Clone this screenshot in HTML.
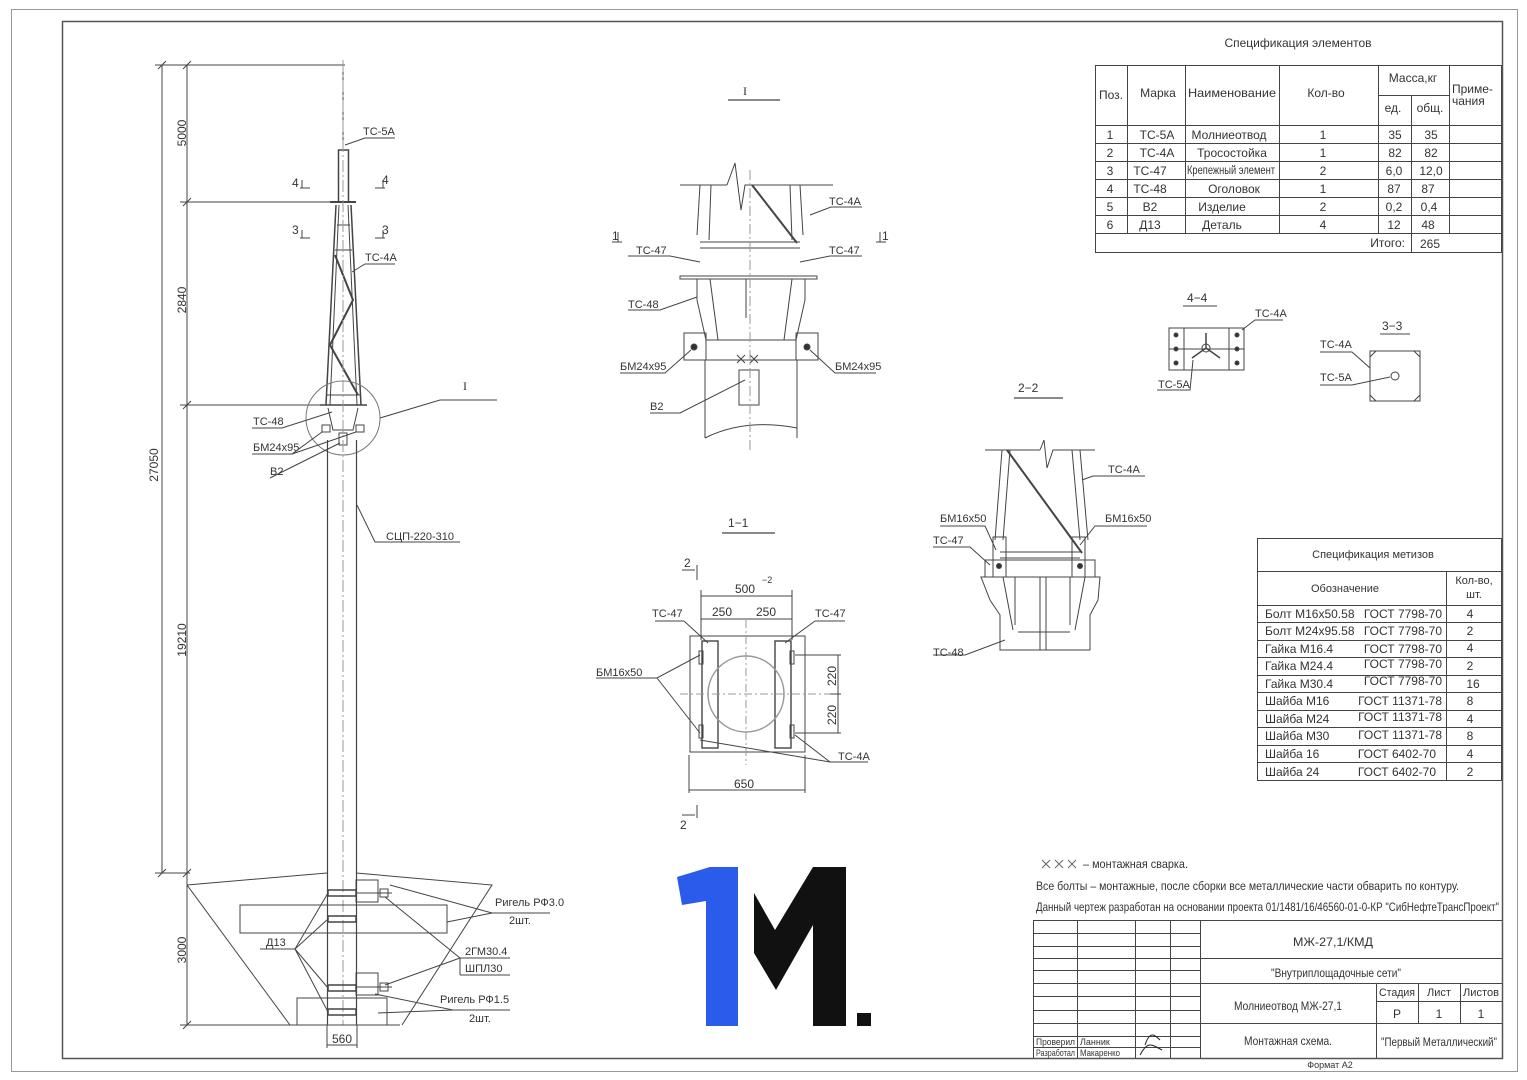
<!DOCTYPE html>
<html><head><meta charset="utf-8"><style>
html,body{margin:0;padding:0;background:#fff}
svg{display:block}
text{font-family:"Liberation Sans","DejaVu Sans",sans-serif;fill:#333;font-size:12px}
.t{font-size:11px}
.s{font-size:9px}
.r{font-family:"Liberation Serif","DejaVu Serif",serif}
</style></head><body>
<svg width="1527" height="1080" viewBox="0 0 1527 1080" xmlns="http://www.w3.org/2000/svg">
<g fill="none" stroke="#444" stroke-width="1">
<rect x="11.5" y="9.5" width="1506" height="1062" stroke="#999"/>
<rect x="62.5" y="21.5" width="1440" height="1037" stroke="#555" stroke-width="1.5"/>

<line x1="162" y1="65" x2="162" y2="873"/>
<line x1="187" y1="65" x2="187" y2="1025"/>
<line x1="155" y1="65" x2="345" y2="65"/>
<line x1="180" y1="202" x2="345" y2="202"/>
<line x1="180" y1="405" x2="330" y2="405"/>
<line x1="155" y1="873" x2="190" y2="873"/>
<line x1="180" y1="1025" x2="400" y2="1025"/>
<line x1="158" y1="69" x2="166" y2="61"/><line x1="183" y1="69" x2="191" y2="61"/>
<line x1="183" y1="206" x2="191" y2="198"/><line x1="183" y1="409" x2="191" y2="401"/>
<line x1="158" y1="877" x2="166" y2="869"/><line x1="183" y1="877" x2="191" y2="869"/>
<line x1="183" y1="1029" x2="191" y2="1021"/>

<line x1="343" y1="65" x2="343" y2="150"/>
<rect x="338.5" y="150" width="10" height="52" stroke-width="1.5"/>
<line x1="330" y1="202" x2="356" y2="202" stroke-width="2"/>
<line x1="336" y1="205" x2="326" y2="405" stroke-width="1.5"/>
<line x1="351" y1="205" x2="361" y2="405" stroke-width="1.5"/>
<line x1="339" y1="205" x2="330" y2="405"/>
<line x1="348" y1="205" x2="357" y2="405"/>
<line x1="337" y1="225" x2="350" y2="225"/>
<line x1="335" y1="250" x2="352" y2="250"/>
<polyline points="335,255 353,300 330,345 358,395" stroke-width="2"/>
<line x1="327" y1="395" x2="360" y2="395"/>
<line x1="320" y1="405" x2="367" y2="405" stroke-width="1.5"/>
<path d="M328 408 L333 430 L353 430 L358 408"/>
<rect x="322" y="425" width="8" height="7"/><rect x="356" y="425" width="8" height="7"/>
<rect x="339" y="433" width="8" height="12"/>
<circle cx="343" cy="418" r="37" stroke="#777"/>
<line x1="327.5" y1="440" x2="327.5" y2="1025" stroke-width="1.2"/>
<line x1="356.5" y1="440" x2="356.5" y2="1025" stroke-width="1.2"/>
<line x1="343" y1="60" x2="343" y2="1025" stroke-dasharray="12 3 2 3" stroke="#999"/>
<path d="M300 188 L310 188 M302 180 L302 188 M375 188 L385 188 M383 180 L383 188"/>
<path d="M300 238 L310 238 M302 230 L302 238 M375 238 L385 238 M383 230 L383 238"/>
<polyline points="345,145 365,138 395,138"/>
<polyline points="352,272 365,264 395,264"/>
<polyline points="380,418 440,400 497,400"/>
<polyline points="252,428 282,428 332,412"/>
<polyline points="252,454 292,454 322,432"/>
<polyline points="292,454 356,432"/>
<polyline points="270,478 340,443"/>
<polyline points="357,505 375,542 460,542"/>
<polyline points="187,885 327,873"/><polyline points="356,873 492,885 402,1025"/>
<line x1="187" y1="885" x2="290" y2="1025"/>
<rect x="240" y="905" width="207" height="28"/>
<rect x="297" y="998" width="90" height="27"/>
<rect x="356" y="880" width="22" height="22"/>
<rect x="356" y="973" width="22" height="22"/>
<rect x="328" y="890" width="28" height="6" stroke-width="1.5"/>
<rect x="328" y="916" width="28" height="6" stroke-width="1.5"/>
<rect x="328" y="985" width="28" height="6" stroke-width="1.5"/>
<rect x="328" y="1009" width="28" height="6" stroke-width="1.5"/>
<line x1="356" y1="893" x2="392" y2="893"/><rect x="380" y="889" width="8" height="8"/>
<line x1="356" y1="987" x2="392" y2="987"/><rect x="380" y="983" width="8" height="8"/>
<polyline points="295,949 328,893"/><polyline points="295,949 328,919"/><polyline points="295,949 328,988"/><polyline points="295,949 328,1012"/>
<line x1="260" y1="949" x2="295" y2="949"/>
<polyline points="390,885 492,913 550,913"/><polyline points="447,922 492,913"/>
<polyline points="385,897 460,958 510,958"/><polyline points="385,985 460,958"/>
<line x1="460" y1="958" x2="460" y2="975"/><line x1="460" y1="975" x2="510" y2="975"/>
<polyline points="375,994 453,1010 510,1010"/><polyline points="378,1013 453,1010"/>
<line x1="327" y1="1045" x2="357" y2="1045"/>
<line x1="327" y1="1025" x2="327" y2="1048"/><line x1="357" y1="1025" x2="357" y2="1048"/>

<line x1="728" y1="100" x2="780" y2="100" stroke-width="1.3"/>
<line x1="680" y1="185" x2="727" y2="185"/><polyline points="727,185 735,163 741,210 745,185 833,185"/>
<line x1="700" y1="185" x2="697" y2="235"/><line x1="711" y1="185" x2="709" y2="240"/>
<line x1="790" y1="185" x2="792" y2="240"/><line x1="800" y1="185" x2="803" y2="235"/>
<line x1="752" y1="185" x2="797" y2="243" stroke-width="2"/>
<line x1="700" y1="242" x2="800" y2="242"/><line x1="700" y1="248" x2="800" y2="248"/>
<rect x="680" y="276" width="137" height="3"/>
<path d="M697 279 L697 300 L706 340 L796 340 L805 300 L805 279"/>
<path d="M710 279 L718 340 M792 279 L784 340 M746 279 L746 318"/>
<rect x="684" y="333" width="22" height="27"/><rect x="796" y="333" width="22" height="27"/>
<circle cx="694" cy="347" r="3" fill="#333"/><circle cx="807" cy="347" r="3" fill="#333"/>
<path d="M705 360 L705 438 M797 360 L797 438 M705 360 L797 360"/>
<path d="M705 438 Q745 418 797 428"/>
<rect x="739" y="370" width="20" height="35"/>
<path d="M737 355 L745 363 M745 355 L737 363 M750 355 L758 363 M758 355 L750 363"/>
<line x1="750" y1="170" x2="750" y2="450" stroke-dasharray="10 3 2 3" stroke="#999"/>
<polyline points="810,215 831,207 862,207"/><polyline points="800,262 830,256 862,256"/>
<polyline points="700,262 670,256 628,256"/><polyline points="697,297 660,310 628,310"/>
<polyline points="691,350 665,373 620,373"/><polyline points="810,350 835,373 876,373"/>
<polyline points="745,380 680,413 650,413"/>
<path d="M612 242 L622 242 M618 232 L618 242 M876 242 L886 242 M880 232 L880 242"/>

<line x1="722" y1="533" x2="775" y2="533" stroke-width="1.3"/>
<path d="M682 570 L695 570 M697 565 L697 580 M682 815 L695 815 M697 805 L697 818"/>
<rect x="690" y="636" width="115" height="116"/>
<rect x="702" y="641" width="16" height="107" stroke-width="1.4"/>
<rect x="775" y="641" width="16" height="107" stroke-width="1.4"/>
<rect x="699" y="651" width="4" height="13"/><rect x="699" y="725" width="4" height="13"/>
<rect x="790" y="651" width="4" height="13"/><rect x="790" y="725" width="4" height="13"/>
<circle cx="746" cy="694" r="38" stroke="#999" stroke-width="1.5"/>
<line x1="746" y1="620" x2="746" y2="765" stroke-dasharray="8 3 2 3" stroke="#999"/>
<line x1="680" y1="694" x2="840" y2="694" stroke-dasharray="8 3 2 3" stroke="#999"/>
<line x1="701" y1="596" x2="792" y2="596"/><line x1="701" y1="619" x2="792" y2="619"/>
<line x1="701" y1="590" x2="701" y2="640"/><line x1="792" y1="590" x2="792" y2="640"/>
<line x1="689" y1="790" x2="805" y2="790"/><line x1="689" y1="755" x2="689" y2="793"/><line x1="805" y1="755" x2="805" y2="793"/>
<line x1="838" y1="655" x2="838" y2="733"/><line x1="795" y1="655" x2="841" y2="655"/><line x1="795" y1="733" x2="841" y2="733"/><line x1="830" y1="694" x2="841" y2="694"/>
<polyline points="596,678 657,678 700,655"/><polyline points="657,678 700,733"/>
<polyline points="700,740 830,762 868,762"/><polyline points="795,735 830,762"/>
<polyline points="684,621 708,643"/><polyline points="815,621 785,643"/>
<line x1="655" y1="621" x2="684" y2="621"/><line x1="815" y1="621" x2="845" y2="621"/>

<line x1="1014" y1="398" x2="1063" y2="398" stroke-width="1.3"/>
<line x1="985" y1="450" x2="1040" y2="450"/><polyline points="1040,450 1044,440 1047,468 1053,450 1095,450"/>
<line x1="1002" y1="450" x2="995" y2="540"/><line x1="1010" y1="450" x2="1003" y2="540"/>
<line x1="1072" y1="450" x2="1080" y2="540"/><line x1="1080" y1="450" x2="1088" y2="540"/>
<line x1="1007" y1="450" x2="1082" y2="553" stroke-width="2"/>
<rect x="993" y="537" width="13" height="40"/><rect x="1072" y="537" width="13" height="40"/>
<line x1="1000" y1="552" x2="1080" y2="552"/><line x1="1000" y1="558" x2="1080" y2="558"/>
<rect x="985" y="560" width="110" height="17"/>
<circle cx="999" cy="566" r="2.5" fill="#333"/><circle cx="1080" cy="566" r="2.5" fill="#333"/>
<path d="M981 577 L1100 577 L1098 600 L1090 615 L1090 650 L1000 650 L1000 615 L990 600 Z"/>
<path d="M1003 577 L1013 630 M1085 577 L1075 630 M1015 577 L1015 625 M1070 577 L1070 625 M1040 577 L1040 650 M1046 577 L1046 650"/>
<line x1="1018" y1="632" x2="1070" y2="632"/>
<polyline points="1082,480 1093,476 1145,476"/><polyline points="1080,545 1095,526 1147,526"/>
<polyline points="996,550 985,526 940,526"/><polyline points="990,565 970,547 933,547"/>
<polyline points="1005,640 965,655 933,655"/>

<line x1="1183" y1="306" x2="1217" y2="306"/>
<rect x="1169" y="328" width="75" height="42"/>
<rect x="1169" y="328" width="15" height="42"/><rect x="1229" y="328" width="15" height="42"/>
<line x1="1169" y1="349" x2="1244" y2="349"/>
<circle cx="1176" cy="335" r="2" fill="#333"/><circle cx="1176" cy="349" r="2" fill="#333"/><circle cx="1176" cy="363" r="2" fill="#333"/>
<circle cx="1237" cy="335" r="2" fill="#333"/><circle cx="1237" cy="349" r="2" fill="#333"/><circle cx="1237" cy="363" r="2" fill="#333"/>
<path d="M1206 348 L1192 358 M1206 348 L1220 358 M1206 348 L1206 333" stroke-width="1.5"/>
<circle cx="1206" cy="348" r="4"/>
<polyline points="1242,330 1255,320 1283,320"/><polyline points="1193,360 1190,390 1157,390"/>
<line x1="1380" y1="334" x2="1410" y2="334"/>
<rect x="1370" y="351" width="50" height="50"/>
<path d="M1370 357 L1376 351 M1414 351 L1420 357 M1370 395 L1376 401 M1414 401 L1420 395"/>
<circle cx="1395" cy="376" r="4"/>
<polyline points="1320,352 1352,352 1370,368"/><polyline points="1320,385 1352,385 1390,377"/>

<rect x="1095.5" y="65.5" width="406" height="187"/>
<path d="M1127.5 65 V233 M1185.5 65 V233 M1279.5 65 V233 M1378.5 65 V233 M1411.5 95 V252 M1449.5 65 V233"/>
<path d="M1378 95.5 H1449 M1095 125.5 H1502 M1095 143.5 H1502 M1095 161.5 H1502 M1095 179.5 H1502 M1095 197.5 H1502 M1095 215.5 H1502 M1095 233.5 H1502"/>
<rect x="1257.5" y="538.5" width="244" height="242"/>
<path d="M1257 571.5 H1502 M1257 605.5 H1502 M1257 622.5 H1502 M1257 640.5 H1502 M1257 657.5 H1502 M1257 675.5 H1502 M1257 692.5 H1502 M1257 710.5 H1502 M1257 727.5 H1502 M1257 745.5 H1502 M1257 762.5 H1502 M1446.5 571 V780"/>
<path d="M1033.5 920 V1058 M1033 920.5 H1502 M1077.5 920 V1058 M1135.5 920 V1058 M1170.5 920 V1058 M1200.5 920 V1058"/>
<path d="M1033 933.5 H1200 M1033 946.5 H1200 M1033 958.5 H1502 M1033 970.5 H1200 M1033 983.5 H1502 M1033 996.5 H1200 M1033 1010.5 H1200 M1033 1023.5 H1502 M1033 1036.5 H1200 M1033 1047.5 H1200"/>
<path d="M1376.5 983 V1058 M1418.5 983 V1023 M1460.5 983 V1023 M1376 1001.5 H1502"/>
<path d="M1145 1045 C1150 1030 1155 1035 1160 1040 M1140 1055 C1148 1040 1152 1045 1162 1050" stroke="#222"/>
<path d="M1042 860 L1050 868 M1050 860 L1042 868 M1055 860 L1063 868 M1063 860 L1055 868 M1068 860 L1076 868 M1076 860 L1068 868" stroke="#666"/>
</g>

<polygon points="677,877 710,867 738,867 738,1026 706,1026 706,901 682,905" fill="#2a5bea"/>
<polygon points="754,893 775,930 813,867 846,867 846,1026 813,1026 813,925 776,990 754,953" fill="#111"/>
<rect x="857" y="1013" width="14" height="13" fill="#111"/>

<g>
<text transform="translate(186,133) rotate(-90)" text-anchor="middle">5000</text>
<text transform="translate(186,300) rotate(-90)" text-anchor="middle">2840</text>
<text transform="translate(158,465) rotate(-90)" text-anchor="middle">27050</text>
<text transform="translate(186,640) rotate(-90)" text-anchor="middle">19210</text>
<text transform="translate(186,950) rotate(-90)" text-anchor="middle">3000</text>
<text x="342" y="1043" text-anchor="middle">560</text>
<text x="363" y="135" class="t">ТС-5А</text>
<text x="365" y="261" class="t">ТС-4А</text>
<text x="292" y="187">4</text><text x="382" y="184">4</text>
<text x="292" y="234">3</text><text x="382" y="234">3</text>
<text x="463" y="390" font-size="24" class="r">I</text>
<text x="253" y="425" class="t">ТС-48</text>
<text x="253" y="451" class="t">БМ24х95</text>
<text x="270" y="475" class="t">В2</text>
<text x="386" y="540" class="t">СЦП-220-310</text>
<text x="495" y="906" class="t">Ригель РФ3.0</text>
<text x="509" y="924" class="t">2шт.</text>
<text x="266" y="946" class="t">Д13</text>
<text x="465" y="955" class="t">2ГМ30.4</text>
<text x="465" y="972" class="t">ШПЛ30</text>
<text x="440" y="1003" class="t">Ригель РФ1.5</text>
<text x="469" y="1022" class="t">2шт.</text>

<text x="743" y="95" font-size="24" class="r">I</text>
<text x="829" y="205" class="t">ТС-4А</text>
<text x="636" y="254" class="t">ТС-47</text><text x="829" y="254" class="t">ТС-47</text>
<text x="612" y="240">1</text><text x="882" y="240">1</text>
<text x="628" y="308" class="t">ТС-48</text>
<text x="620" y="370" class="t">БМ24х95</text>
<text x="835" y="370" class="t">БМ24х95</text>
<text x="650" y="410" class="t">В2</text>

<text x="728" y="527" font-size="18">1−1</text>
<text x="684" y="567">2</text><text x="680" y="829">2</text>
<text x="735" y="593">500</text><text x="762" y="583" class="s">−2</text>
<text x="712" y="616">250</text><text x="756" y="616">250</text>
<text x="652" y="617" class="t">ТС-47</text><text x="815" y="617" class="t">ТС-47</text>
<text x="596" y="676" class="t">БМ16х50</text>
<text x="838" y="760" class="t">ТС-4А</text>
<text x="734" y="788">650</text>
<text transform="translate(836,676) rotate(-90)" text-anchor="middle">220</text>
<text transform="translate(836,715) rotate(-90)" text-anchor="middle">220</text>

<text x="1018" y="392" font-size="18">2−2</text>
<text x="1108" y="473" class="t">ТС-4А</text>
<text x="940" y="522" class="t">БМ16х50</text>
<text x="1105" y="522" class="t">БМ16х50</text>
<text x="933" y="544" class="t">ТС-47</text>
<text x="933" y="656" class="t">ТС-48</text>

<text x="1187" y="302">4−4</text>
<text x="1255" y="317" class="t">ТС-4А</text>
<text x="1158" y="388" class="t">ТС-5А</text>
<text x="1382" y="330">3−3</text>
<text x="1320" y="348" class="t">ТС-4А</text>
<text x="1320" y="381" class="t">ТС-5А</text>

<text x="1298" y="47" font-size="14" text-anchor="middle">Спецификация элементов</text>
<text x="1111" y="99" text-anchor="middle">Поз.</text>
<text x="1158" y="97" text-anchor="middle">Марка</text>
<text x="1232" y="97" text-anchor="middle" textLength="88" lengthAdjust="spacingAndGlyphs">Наименование</text>
<text x="1326" y="97" text-anchor="middle">Кол-во</text>
<text x="1413" y="82" text-anchor="middle">Масса,кг</text>
<text x="1393" y="112" text-anchor="middle">ед.</text>
<text x="1430" y="112" text-anchor="middle">общ.</text>
<text x="1452" y="93">Приме-</text><text x="1452" y="105">чания</text>
<g text-anchor="middle" font-size="13">
<text x="1110" y="139">1</text><text x="1157" y="139">ТС-5А</text><text x="1229" y="139">Молниеотвод</text><text x="1323" y="139">1</text><text x="1395" y="139">35</text><text x="1431" y="139">35</text>
<text x="1110" y="157">2</text><text x="1157" y="157">ТС-4А</text><text x="1232" y="157">Тросостойка</text><text x="1323" y="157">1</text><text x="1395" y="157">82</text><text x="1431" y="157">82</text>
<text x="1110" y="175">3</text><text x="1150" y="175">ТС-47</text><text x="1231" y="174" font-size="8" textLength="88" lengthAdjust="spacingAndGlyphs">Крепежный элемент</text><text x="1323" y="175">2</text><text x="1394" y="175">6,0</text><text x="1431" y="175">12,0</text>
<text x="1110" y="193">4</text><text x="1150" y="193">ТС-48</text><text x="1234" y="193">Оголовок</text><text x="1323" y="193">1</text><text x="1394" y="193">87</text><text x="1428" y="193">87</text>
<text x="1110" y="211">5</text><text x="1150" y="211">В2</text><text x="1222" y="211">Изделие</text><text x="1323" y="211">2</text><text x="1394" y="211">0,2</text><text x="1429" y="211">0,4</text>
<text x="1110" y="229">6</text><text x="1150" y="229">Д13</text><text x="1222" y="229">Деталь</text><text x="1323" y="229">4</text><text x="1394" y="229">12</text><text x="1428" y="229">48</text>
</g>
<text x="1405" y="247" text-anchor="end">Итого:</text><text x="1430" y="248" text-anchor="middle" font-size="13">265</text>

<text x="1373" y="558" class="t" text-anchor="middle">Спецификация метизов</text>
<text x="1345" y="592" class="t" text-anchor="middle">Обозначение</text>
<text x="1474" y="584" class="t" text-anchor="middle">Кол-во,</text><text x="1474" y="598" class="t" text-anchor="middle">шт.</text>
<g class="t">
<text x="1265" y="618">Болт  М16х50.58</text><text x="1442" y="618" text-anchor="end">ГОСТ  7798-70</text>
<text x="1265" y="635">Болт  М24х95.58</text><text x="1442" y="635" text-anchor="end">ГОСТ  7798-70</text>
<text x="1265" y="653">Гайка  М16.4</text><text x="1442" y="653" text-anchor="end">ГОСТ  7798-70</text>
<text x="1265" y="670">Гайка  М24.4</text><text x="1442" y="668" text-anchor="end">ГОСТ  7798-70</text>
<text x="1265" y="688">Гайка  М30.4</text><text x="1442" y="685" text-anchor="end">ГОСТ  7798-70</text>
<text x="1265" y="705">Шайба  М16</text><text x="1442" y="705" text-anchor="end">ГОСТ  11371-78</text>
<text x="1265" y="723">Шайба  М24</text><text x="1442" y="721" text-anchor="end">ГОСТ  11371-78</text>
<text x="1265" y="740">Шайба  М30</text><text x="1442" y="739" text-anchor="end">ГОСТ  11371-78</text>
<text x="1265" y="758">Шайба  16</text><text x="1436" y="758" text-anchor="end">ГОСТ  6402-70</text>
<text x="1265" y="776">Шайба  24</text><text x="1436" y="776" text-anchor="end">ГОСТ  6402-70</text>
</g>
<g class="t" text-anchor="middle">
<text x="1470" y="618">4</text><text x="1470" y="635">2</text><text x="1470" y="652">4</text><text x="1470" y="670">2</text><text x="1473" y="688">16</text><text x="1470" y="705">8</text><text x="1470" y="723">4</text><text x="1470" y="740">8</text><text x="1470" y="758">4</text><text x="1470" y="776">2</text>
</g>

<text x="1083" y="868" font-size="12" textLength="105" lengthAdjust="spacingAndGlyphs">– монтажная сварка.</text>
<text x="1036" y="890" font-size="13" textLength="423" lengthAdjust="spacingAndGlyphs">Все болты – монтажные, после сборки все металлические части обварить по контуру.</text>
<text x="1036" y="911" font-size="12.5" textLength="463" lengthAdjust="spacingAndGlyphs">Данный чертеж разработан на основании проекта 01/1481/16/46560-01-0-КР "СибНефтеТрансПроект"</text>

<text x="1333" y="946" font-size="19" text-anchor="middle" textLength="80" lengthAdjust="spacingAndGlyphs">МЖ-27,1/КМД</text>
<text x="1336" y="977" font-size="15" text-anchor="middle" textLength="130" lengthAdjust="spacingAndGlyphs">"Внутриплощадочные сети"</text>
<text x="1288" y="1010" font-size="15" text-anchor="middle" textLength="108" lengthAdjust="spacingAndGlyphs">Молниеотвод МЖ-27,1</text>
<text x="1288" y="1045" font-size="14" text-anchor="middle" textLength="88" lengthAdjust="spacingAndGlyphs">Монтажная схема.</text>
<text x="1397" y="996" class="t" text-anchor="middle" textLength="36" lengthAdjust="spacingAndGlyphs">Стадия</text>
<text x="1439" y="996" class="t" text-anchor="middle">Лист</text>
<text x="1481" y="996" class="t" text-anchor="middle" textLength="36" lengthAdjust="spacingAndGlyphs">Листов</text>
<text x="1397" y="1018" font-size="14" text-anchor="middle">Р</text>
<text x="1439" y="1018" font-size="14" text-anchor="middle">1</text>
<text x="1481" y="1018" font-size="14" text-anchor="middle">1</text>
<text x="1439" y="1046" font-size="12" text-anchor="middle" textLength="116" lengthAdjust="spacingAndGlyphs">"Первый Металлический"</text>
<text x="1036" y="1045" class="s" textLength="39" lengthAdjust="spacingAndGlyphs">Проверил</text><text x="1080" y="1045" class="s">Ланник</text>
<text x="1036" y="1056" class="s" textLength="39" lengthAdjust="spacingAndGlyphs">Разработал</text><text x="1080" y="1056" class="s" textLength="40" lengthAdjust="spacingAndGlyphs">Макаренко</text>
<text x="1330" y="1068" class="s" text-anchor="middle">Формат  А2</text>
</g>
</svg>
</body></html>
